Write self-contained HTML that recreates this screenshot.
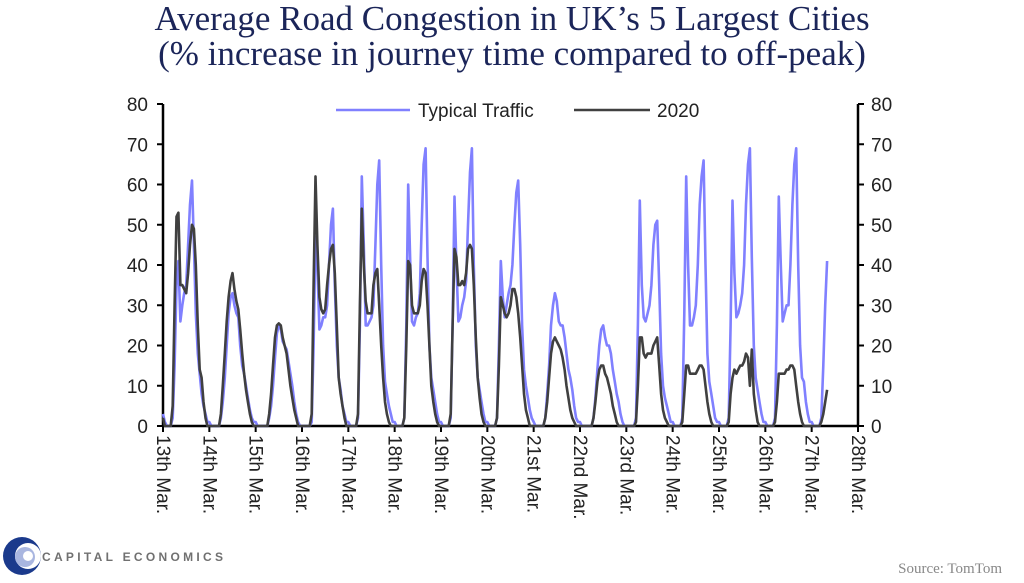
<!DOCTYPE html>
<html><head><meta charset="utf-8"><style>
html,body{margin:0;padding:0;background:#fff;}
svg{display:block;}
</style></head><body>
<svg id="chart" width="1024" height="583" viewBox="0 0 1024 583" xmlns="http://www.w3.org/2000/svg">
<g font-family="Liberation Serif, serif" font-size="35" fill="#1b2559" text-anchor="middle">
<text x="512" y="30">Average Road Congestion in UK’s 5 Largest Cities</text>
<text x="512" y="65">(% increase in journey time compared to off-peak)</text>
</g>
<g id="axes"></g>
<g id="series"></g>
<g font-family="Liberation Sans, sans-serif" font-size="19" fill="#222">
<line x1="336" y1="110" x2="410" y2="110" stroke="#8080ff" stroke-width="2.6"/>
<text x="418" y="117">Typical Traffic</text>
<line x1="574" y1="110" x2="650" y2="110" stroke="#404040" stroke-width="2.6"/>
<text x="657" y="117">2020</text>
</g>
<g>
<circle cx="22" cy="556" r="19" fill="#1b3a8c"/>
<circle cx="28" cy="556" r="13" fill="#fff"/>
<circle cx="25" cy="557" r="10" fill="#a9b6e0"/>
<circle cx="28" cy="556" r="5" fill="#fff"/>
<text x="42" y="561" font-family="Liberation Sans, sans-serif" font-size="12" font-weight="bold" letter-spacing="3.3" fill="#707070">CAPITAL ECONOMICS</text>
</g>
<text x="1002" y="573" text-anchor="end" font-family="Liberation Serif, serif" font-size="15" fill="#888">Source: TomTom</text>
</svg>
<script>
const yTicks = [0,10,20,30,40,50,60,70,80];
const dayLabels = ["13th Mar.","14th Mar.","15th Mar.","16th Mar.","17th Mar.","18th Mar.","19th Mar.","20th Mar.","21st Mar.","22nd Mar.","23rd Mar.","24th Mar.","25th Mar.","26th Mar.","27th Mar.","28th Mar."];
const typicalByDay = [
[3,1,0,0,0,2,15,35,41,26,30,33,35,45,55,61,45,28,18,13,8,5,3,1],
[1,0,0,0,0,0,2,6,12,20,28,32,33,30,28,27,20,15,13,10,7,4,2,1],
[1,0,0,0,0,0,0,2,5,10,17,23,25,24,21,20,19,16,13,10,6,3,1,0],
[0,0,0,0,0,1,20,47,40,24,25,27,27,30,40,50,54,35,20,12,9,5,3,1],
[1,0,0,0,0,2,25,62,45,25,25,26,27,30,45,60,66,40,20,11,8,5,3,1],
[1,0,0,0,0,2,25,60,42,26,25,27,28,33,50,65,69,42,20,12,9,6,3,1],
[1,0,0,0,0,2,25,57,40,26,27,30,32,36,50,63,69,40,20,12,9,6,3,1],
[1,0,0,0,0,2,20,41,32,27,30,33,35,40,50,58,61,45,25,14,10,7,4,2],
[1,0,0,0,0,0,2,8,15,25,30,33,31,26,25,25,22,18,14,12,9,5,2,1],
[1,0,0,0,0,0,0,2,7,14,20,24,25,22,20,20,18,14,11,8,6,3,1,0],
[0,0,0,0,0,2,25,56,35,27,26,28,30,35,45,50,51,35,18,10,7,5,3,1],
[1,0,0,0,0,2,28,62,40,25,25,27,30,40,55,62,66,40,18,11,8,5,2,1],
[1,0,0,0,0,2,25,56,38,27,28,30,33,40,55,65,69,42,20,12,9,6,3,1],
[1,0,0,0,0,2,25,57,40,26,28,30,30,40,55,65,69,40,20,12,11,6,3,1],
[1,0,0,0,0,2,15,30,41]
];
const y2020ByDay = [
[2,0,0,0,0,5,30,52,53,35,35,34,33,38,45,50,49,40,25,14,12,6,2,0],
[0,0,0,0,0,0,3,10,18,26,32,36,38,34,31,29,24,18,13,9,6,3,1,0],
[0,0,0,0,0,0,0,3,8,15,22,25,25.5,25,22,20,18,14,10,7,4,2,0,0],
[0,0,0,0,0,3,35,62,45,32,29,28,29,35,40,44,45,38,25,12,8,5,2,0],
[0,0,0,0,0,3,30,54,40,31,28,28,28,35,38,39,30,20,12,6,3,1,0,0],
[0,0,0,0,0,2,20,41,40,30,28,28,28,30,36,39,38,30,20,10,6,3,1,0],
[0,0,0,0,0,3,25,44,42,35,35,36,35,38,44,45,44,35,22,12,7,3,1,0],
[0,0,0,0,0,2,15,32,30,28,27,28,30,34,34,32,28,22,15,8,4,2,0,0],
[0,0,0,0,0,0,2,6,12,18,21,22,21,20,19,17,14,10,7,4,2,1,0,0],
[0,0,0,0,0,0,0,2,6,11,14,15,15,13,12,10,8,5,3,1,0,0,0,0],
[0,0,0,0,0,1,10,22,22,18,17,18,18,18,20,21,22,15,8,4,2,1,0,0],
[0,0,0,0,0,1,8,15,15,13,13,13,13,14,15,15,14,10,6,3,1,0,0,0],
[0,0,0,0,0,1,8,12,14,13,14,15,15,16,18,17,10,19,8,4,1,0,0,0],
[0,0,0,0,0,1,6,13,13,13,13,14,14,15,15,14,10,6,3,1,0,0,0,0],
[0,0,0,0,0,1,3,6,9]
];
const NS = "http://www.w3.org/2000/svg";
const X0 = 163, X1 = 858, Y0 = 426, Y1 = 104;
const nDays = dayLabels.length - 1;
function xScale(dayFloat){ return X0 + (X1 - X0) * dayFloat / nDays; }
function yScale(v){ return Y0 - (Y0 - Y1) * v / 80; }
function mk(tag, attrs, parent){ const e = document.createElementNS(NS, tag); for (const k in attrs) e.setAttribute(k, attrs[k]); parent.appendChild(e); return e; }
const axes = document.getElementById('axes');
const lab = {"font-family":"Liberation Sans, sans-serif","font-size":"19",fill:"#222"};
let ax = mk('line',{x1:X0,y1:Y1,x2:X0,y2:Y0,stroke:"#000","stroke-width":2.5},axes);


ax = mk('line',{x1:X1,y1:Y1,x2:X1,y2:Y0,stroke:"#000","stroke-width":2.5},axes);


ax = mk('line',{x1:X0,y1:Y0,x2:X1,y2:Y0,stroke:"#000","stroke-width":2.5},axes);


yTicks.forEach(v => {
  const y = yScale(v);
  mk('line',{x1:X0-6,y1:y,x2:X0,y2:y,stroke:"#000","stroke-width":2},axes);
  mk('line',{x1:X1,y1:y,x2:X1+6,y2:y,stroke:"#000","stroke-width":2},axes);
  let t = mk('text',Object.assign({x:148,y:y+7,"text-anchor":"end"},lab),axes);
  t.textContent = v;
  
  
  t = mk('text',Object.assign({x:871,y:y+7,"text-anchor":"start"},lab),axes);
  t.textContent = v;
  
  
});
dayLabels.forEach((d,i) => {
  const x = xScale(i);
  mk('line',{x1:x,y1:Y0,x2:x,y2:Y0+6,stroke:"#000","stroke-width":2},axes);
  const t = mk('text',Object.assign({x:0,y:0,transform:`translate(${x-6},435) rotate(90)`},lab),axes);
  t.textContent = d;
  
  
});
const series = document.getElementById('series');
function drawSeries(byDay, color, name){
  const pts = [];
  byDay.forEach((day, di) => day.forEach((v, h) => pts.push(xScale(di + h/24).toFixed(1) + ',' + yScale(v).toFixed(1))));
  const p = mk('polyline',{points:pts.join(' '),fill:"none",stroke:color,"stroke-width":2.6,"stroke-linejoin":"round"},series);
  
  
}
drawSeries(typicalByDay, "#8080ff", "typical-traffic-line");
drawSeries(y2020ByDay, "#404040", "line-2020");
</script>
</body></html>
